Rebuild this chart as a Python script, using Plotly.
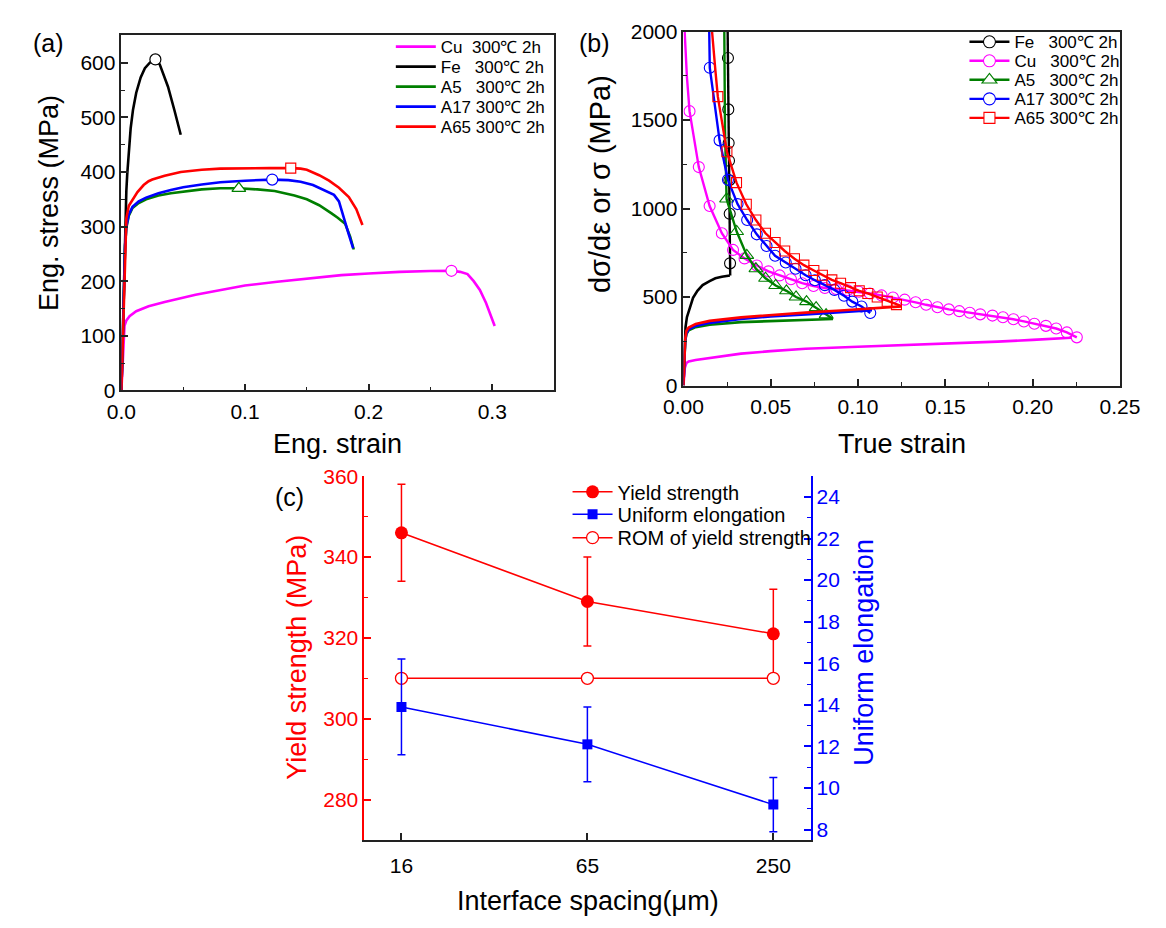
import plotly.graph_objects as go

W, H = 1166, 928
FONT = "Liberation Sans, Arial, sans-serif"

MAG, BLK, GRN, BLU, RED = "#FF00FF", "#000000", "#007F00", "#0000FF", "#FF0000"
NB = "\u00a0"

# ---------------- Panel (a): engineering stress-strain ----------------
names_a = ["Cu" + NB * 2 + "300℃ 2h", "Fe" + NB * 3 + "300℃ 2h", "A5" + NB * 3 + "300℃ 2h",
           "A17 300℃ 2h", "A65 300℃ 2h"]

cu_eng_strain = [0, 0.001, 0.002, 0.0025, 0.004, 0.0066, 0.012, 0.022, 0.035, 0.048, 0.06, 0.074,
                 0.09, 0.1, 0.126, 0.15, 0.178, 0.2, 0.225, 0.25, 0.267, 0.274, 0.28, 0.285, 0.29,
                 0.295, 0.302]
cu_eng_stress = [0, 50, 100, 118, 128, 136, 145, 154, 162, 169, 175, 181, 188, 192, 199, 205, 211,
                 214, 217, 218.5, 219, 217, 213, 200, 184, 160, 118]

fe_eng_strain = [0, 0.001, 0.002, 0.0025, 0.003, 0.004, 0.0047, 0.006, 0.0075, 0.0094, 0.012,
                 0.0156, 0.019, 0.023, 0.0275, 0.031, 0.0326, 0.0377, 0.043, 0.048]
fe_eng_stress = [0, 90, 190, 260, 310, 365, 395, 440, 480, 514, 545, 573, 590, 600, 606, 597, 588,
                 556, 512, 468]

a5_eng_strain = [0, 0.001, 0.002, 0.003, 0.004, 0.006, 0.009, 0.014, 0.02, 0.03, 0.04, 0.05, 0.065,
                 0.08, 0.095, 0.11, 0.124, 0.14, 0.15, 0.16, 0.165, 0.17, 0.175, 0.181, 0.185, 0.188]
a5_eng_stress = [0, 90, 190, 265, 298, 320, 334, 343, 350, 357, 361, 364, 368, 370, 370, 368, 365,
                 357, 350, 339, 332, 324, 316, 305, 282, 258]

a17_eng_strain = [0, 0.001, 0.002, 0.003, 0.004, 0.006, 0.009, 0.014, 0.02, 0.03, 0.04, 0.05, 0.065,
                  0.08, 0.1, 0.122, 0.135, 0.145, 0.155, 0.165, 0.172, 0.176, 0.178, 0.181, 0.184,
                  0.1875]
a17_eng_stress = [0, 90, 190, 265, 300, 322, 336, 346, 353, 361, 367, 372, 377, 381, 384, 386, 385,
                  382, 376, 366, 358, 346, 332, 308, 285, 260]

a65_eng_strain = [0, 0.001, 0.002, 0.003, 0.004, 0.006, 0.009, 0.013, 0.018, 0.022, 0.025, 0.035,
                  0.048, 0.065, 0.08, 0.1, 0.12, 0.137, 0.145, 0.15, 0.16, 0.168, 0.176, 0.184,
                  0.19, 0.195]
a65_eng_stress = [0, 90, 190, 270, 315, 338, 348, 363, 376, 383, 386, 393, 400, 404, 406, 407, 407,
                  407, 406, 404, 394, 384, 371, 354, 332, 303]

# ultimate tensile strength points (Cu, Fe, A5, A17, A65)
uts_strain = [0.267, 0.0275, 0.095, 0.122, 0.137]
uts_stress = [219, 606, 370, 386, 407]

# ---------------- Panel (b): true stress & strain hardening rate ----------------
names_b = ["Fe" + NB * 3 + "300℃ 2h", "Cu" + NB * 3 + "300℃ 2h", "A5" + NB * 3 + "300℃ 2h",
           "A17 300℃ 2h", "A65 300℃ 2h"]

fe_true_strain = [0, 0.0003, 0.0007, 0.0012, 0.002, 0.004, 0.0055, 0.008, 0.011, 0.015, 0.0183,
                  0.022, 0.0266]
fe_true_stress = [0, 120, 250, 330, 386, 455, 495, 535, 567, 590, 606, 614, 622]

cu_true_strain = [0, 0.0004, 0.0008, 0.0017, 0.003, 0.007, 0.012, 0.02, 0.033, 0.05, 0.07, 0.1,
                  0.125, 0.15, 0.18, 0.2, 0.222]
cu_true_stress = [0, 50, 100, 127, 136, 144, 151, 162, 180, 194, 208, 219, 227, 236, 248, 258, 270]

a5_true_strain = [0, 0.0005, 0.001, 0.0017, 0.003, 0.007, 0.015, 0.033, 0.05, 0.07, 0.0857]
a5_true_stress = [0, 150, 250, 290, 312, 330, 343, 358, 365, 371, 376]

a17_true_strain = [0, 0.0005, 0.001, 0.0017, 0.003, 0.007, 0.015, 0.033, 0.05, 0.07, 0.09, 0.108]
a17_true_stress = [0, 150, 255, 295, 318, 337, 354, 376, 390, 402, 414, 425]

a65_true_strain = [0, 0.0005, 0.001, 0.0017, 0.003, 0.007, 0.015, 0.033, 0.05, 0.07, 0.09, 0.107,
                   0.125]
a65_true_stress = [0, 150, 260, 309, 327, 347, 365, 385, 398, 412, 424, 435, 447]

# strain hardening rate: marker points
fe_hr_strain = [0.0255, 0.0257, 0.0259, 0.0261, 0.0263, 0.0265, 0.0267]
fe_hr = [1850, 1560, 1370, 1270, 1160, 970, 690]
cu_hr_strain = [0.0035, 0.0088, 0.015, 0.022, 0.0284, 0.035, 0.042, 0.0487, 0.0551, 0.0616, 0.068,
                0.0745, 0.081, 0.0875, 0.094, 0.1005, 0.1068, 0.1135, 0.12, 0.1267, 0.133, 0.139,
                0.1455, 0.152, 0.158, 0.164, 0.17, 0.177, 0.183, 0.189, 0.195, 0.201, 0.2076,
                0.2135, 0.2196, 0.2253]
cu_hr = [1550, 1234, 1014, 860, 766, 718, 678, 645, 622, 600, 578, 562, 551, 545, 538, 530, 520,
         509, 497, 485, 470, 456, 442, 430, 420, 411, 402, 395, 386, 374, 362, 349, 337, 322, 300,
         272]
a5_hr_strain = [0.0247, 0.0305, 0.0363, 0.0415, 0.047, 0.0528, 0.059, 0.0645, 0.0705, 0.076,
                0.0817]
a5_hr = [1054, 870, 735, 660, 606, 565, 535, 500, 474, 440, 400]
a17_hr_strain = [0.0151, 0.0207, 0.0255, 0.031, 0.0365, 0.042, 0.0476, 0.0525, 0.0586, 0.0642,
                 0.07, 0.0753, 0.081, 0.0865, 0.092, 0.0967, 0.102, 0.107]
a17_hr = [1795, 1385, 1162, 1025, 935, 854, 788, 733, 695, 660, 623, 595, 567, 540, 507, 474, 446,
          410]
a65_hr_strain = [0.0197, 0.0249, 0.0304, 0.036, 0.0415, 0.047, 0.0525, 0.058, 0.0636, 0.069,
                 0.0747, 0.0796, 0.085, 0.09, 0.0957, 0.1007, 0.1056, 0.111, 0.1167, 0.122]
a65_hr = [1632, 1321, 1146, 1024, 935, 860, 808, 760, 716, 680, 650, 623, 597, 578, 553, 535, 520,
          500, 476, 457]

# strain hardening rate: curve pieces before the first / after the last marker
fe_hr_top_strain, fe_hr_top = [0.025, 0.0253], [2300, 2000]
fe_hr_end_strain, fe_hr_end = [0.0268], [622]
cu_hr_top_strain, cu_hr_top = [0.0004, 0.0007, 0.002], [2300, 2000, 1743]
cu_hr_end_strain, cu_hr_end = [], []
a5_hr_top_strain, a5_hr_top = [0.0232, 0.0234, 0.0238], [2300, 2000, 1450]
a5_hr_end_strain, a5_hr_end = [0.0857], [376]
a17_hr_top_strain, a17_hr_top = [0.0143, 0.0146], [2300, 2000]
a17_hr_end_strain, a17_hr_end = [], []
a65_hr_top_strain, a65_hr_top = [0.0158, 0.0164, 0.0183], [2300, 2000, 1780]
a65_hr_end_strain, a65_hr_end = [0.125], [448]

# ---------------- Panel (c) ----------------
spacing_labels = ["16", "65", "250"]
yield_strength = [346, 329, 321]
yield_err = [12, 11, 11]
uniform_elong = [13.9, 12.1, 9.2]
uniform_err = [2.3, 1.8, 1.3]
rom_yield = [310, 310, 310]
names_c = ["Yield strength", "Uniform elongation", "ROM of yield strength"]


def px(p):
    return p / W


def py(p):
    return 1 - p / H


fig = go.Figure()

# legend ids: one legend per entry so that the rows can sit where the reference puts them
leg_a = ["legend", "legend2", "legend3", "legend4", "legend5"]
leg_b = ["legend6", "legend7", "legend8", "legend9", "legend10"]
leg_c = ["legend11", "legend12", "legend13"]

# ---- (a)
a_sets = [
    (cu_eng_strain, cu_eng_stress, MAG, "circle", 11),
    (fe_eng_strain, fe_eng_stress, BLK, "circle", 11),
    (a5_eng_strain, a5_eng_stress, GRN, "triangle-up", 12),
    (a17_eng_strain, a17_eng_stress, BLU, "circle", 11),
    (a65_eng_strain, a65_eng_stress, RED, "square", 10),
]
for i, (xs, ys, col, sym, sz) in enumerate(a_sets):
    fig.add_trace(go.Scatter(x=xs, y=ys, mode="lines", name=names_a[i],
                             line=dict(color=col, width=2.6), xaxis="x", yaxis="y",
                             legend=leg_a[i]))
for i, (xs, ys, col, sym, sz) in enumerate(a_sets):
    fig.add_trace(go.Scatter(x=[uts_strain[i]], y=[uts_stress[i]], mode="markers",
                             showlegend=False, xaxis="x", yaxis="y",
                             marker=dict(symbol=sym, size=sz, color="white",
                                         line=dict(color=col, width=1.2))))

# ---- (b)
b_sets = [
    (fe_true_strain, fe_true_stress, fe_hr_strain, fe_hr, fe_hr_top_strain, fe_hr_top,
     fe_hr_end_strain, fe_hr_end, BLK, "circle", 11),
    (cu_true_strain, cu_true_stress, cu_hr_strain, cu_hr, cu_hr_top_strain, cu_hr_top,
     cu_hr_end_strain, cu_hr_end, MAG, "circle", 11),
    (a5_true_strain, a5_true_stress, a5_hr_strain, a5_hr, a5_hr_top_strain, a5_hr_top,
     a5_hr_end_strain, a5_hr_end, GRN, "triangle-up", 12),
    (a17_true_strain, a17_true_stress, a17_hr_strain, a17_hr, a17_hr_top_strain, a17_hr_top,
     a17_hr_end_strain, a17_hr_end, BLU, "circle", 11),
    (a65_true_strain, a65_true_stress, a65_hr_strain, a65_hr, a65_hr_top_strain, a65_hr_top,
     a65_hr_end_strain, a65_hr_end, RED, "square", 10),
]
for i, (sx, sy, hx, hy, tx, ty, ex, ey, col, sym, sz) in enumerate(b_sets):
    fig.add_trace(go.Scatter(x=sx, y=sy, mode="lines", showlegend=False,
                             line=dict(color=col, width=2.6), xaxis="x2", yaxis="y2"))
    fig.add_trace(go.Scatter(x=tx + hx + ex, y=ty + hy + ey, mode="lines", showlegend=False,
                             line=dict(color=col, width=2.4), xaxis="x2", yaxis="y2"))
    fig.add_trace(go.Scatter(x=hx, y=hy, mode="markers", showlegend=False, xaxis="x2", yaxis="y2",
                             marker=dict(symbol=sym, size=sz, color="rgba(255,255,255,0)",
                                         line=dict(color=col, width=1.1))))
for i, (sx, sy, hx, hy, tx, ty, ex, ey, col, sym, sz) in enumerate(b_sets):
    fig.add_trace(go.Scatter(x=[None], y=[None], mode="lines+markers", name=names_b[i],
                             xaxis="x2", yaxis="y2", legend=leg_b[i],
                             line=dict(color=col, width=2.4),
                             marker=dict(symbol=sym, size=sz + 1, color="white",
                                         line=dict(color=col, width=1.1))))

# ---- (c)
fig.add_trace(go.Scatter(x=spacing_labels, y=yield_strength, mode="lines+markers",
                         name=names_c[0], legend=leg_c[0],
                         xaxis="x3", yaxis="y3",
                         line=dict(color=RED, width=1.5),
                         marker=dict(symbol="circle", size=13, color=RED),
                         error_y=dict(type="data", array=yield_err, color=RED, thickness=1.5,
                                      width=4)))
fig.add_trace(go.Scatter(x=spacing_labels, y=rom_yield, mode="lines+markers",
                         name=names_c[2], legend=leg_c[2],
                         xaxis="x3", yaxis="y3",
                         line=dict(color=RED, width=1.5),
                         marker=dict(symbol="circle", size=12, color="white",
                                     line=dict(color=RED, width=1.3))))
fig.add_trace(go.Scatter(x=spacing_labels, y=uniform_elong, mode="lines+markers",
                         name=names_c[1], legend=leg_c[1],
                         xaxis="x3", yaxis="y4",
                         line=dict(color=BLU, width=1.5),
                         marker=dict(symbol="square", size=10, color=BLU),
                         error_y=dict(type="data", array=uniform_err, color=BLU, thickness=1.5,
                                      width=4)))

AX = "#222222"


def axis(**kw):
    d = dict(showgrid=False, zeroline=False, showline=True, linecolor=AX, linewidth=1.5,
             ticks="inside", ticklen=7, tickwidth=1.5, tickcolor=AX,
             tickfont=dict(family=FONT, size=21, color="black"))
    d.update(kw)
    return d


def minor(dt, col=AX):
    return dict(ticks="inside", ticklen=4, tickwidth=1.2, tickcolor=col, dtick=dt)


def legend_box(left, row_y, size):
    return dict(x=px(left), y=py(row_y), xanchor="left", yanchor="middle",
                bgcolor="rgba(0,0,0,0)", borderwidth=0,
                font=dict(family=FONT, size=size, color="black"), itemwidth=40)


layout = dict(
    width=W, height=H, margin=dict(l=0, r=0, t=0, b=0),
    paper_bgcolor="white", plot_bgcolor="white",
    font=dict(family=FONT, color="black"),
    xaxis=axis(domain=[px(105), px(553)], anchor="y", range=[0, 0.35], dtick=0.1, tick0=0,
               tickformat=".1f", minor=minor(0.05), mirror=True, ticklabelstandoff=2),
    yaxis=axis(domain=[py(388), py(24)], anchor="x", range=[0, 650], dtick=100, tick0=0,
               minor=minor(50), mirror=True),
    xaxis2=axis(domain=[px(687), px(1139)], anchor="y2", range=[0, 0.25], dtick=0.05, tick0=0,
                tickformat=".2f", minor=minor(0.025), mirror=True, ticklabelstandoff=2),
    yaxis2=axis(domain=[py(383), py(20)], anchor="x2", range=[0, 2000], dtick=500, tick0=0,
                minor=minor(250), mirror=True),
    xaxis3=axis(domain=[px(356.5), px(818.6)], anchor="y3", type="category",
                range=[-0.2, 2.2], ticklabelstandoff=6),
    yaxis3=axis(domain=[py(849), py(476)], anchor="x3", range=[270, 360], dtick=20, tick0=0,
                linecolor=RED, tickcolor=RED, tickfont=dict(family=FONT, size=21, color=RED),
                minor=minor(10, RED)),
    yaxis4=axis(domain=[py(849), py(476)], anchor="x3", overlaying="y3", side="right",
                range=[7.5, 25], dtick=2, tick0=0,
                linecolor=BLU, tickcolor=BLU, tickfont=dict(family=FONT, size=21, color=BLU),
                minor=minor(1, BLU)),
    showlegend=True,
)
rows_a = [36, 56.5, 77, 97.5, 118]
rows_b = [31, 50.5, 70, 89.5, 109]
rows_c = [492, 515, 539]
for lid, ry in zip(leg_a, rows_a):
    layout[lid] = legend_box(384, ry, 17)
for lid, ry in zip(leg_b, rows_b):
    layout[lid] = legend_box(978, ry, 17)
for lid, ry in zip(leg_c, rows_c):
    layout[lid] = legend_box(567, ry, 20)
fig.update_layout(**layout)


def note(text, x, y, size=27, color="black", angle=0):
    fig.add_annotation(text=text, x=px(x), y=py(y), xref="paper", yref="paper",
                       xanchor="center", yanchor="middle", showarrow=False, textangle=angle,
                       font=dict(family=FONT, size=size, color=color))


note("(a)", 29, 32, 25)
note("(b)", 595, 32, 25)
note("(c)", 279, 497, 25)
note("Eng. stress (MPa)", 30, 196, angle=-90)
note("Eng. strain", 329, 443)
note("dσ/dε or σ (MPa)", 600, 176, size=29, angle=-90)
note("True strain", 913, 443)
note("Yield strength (MPa)", 286, 662, color=RED, angle=-90)
note("Uniform elongation", 874, 657, color=BLU, angle=-90)
note("Interface spacing(μm)", 588, 912)

fig.write_html("out.html")
